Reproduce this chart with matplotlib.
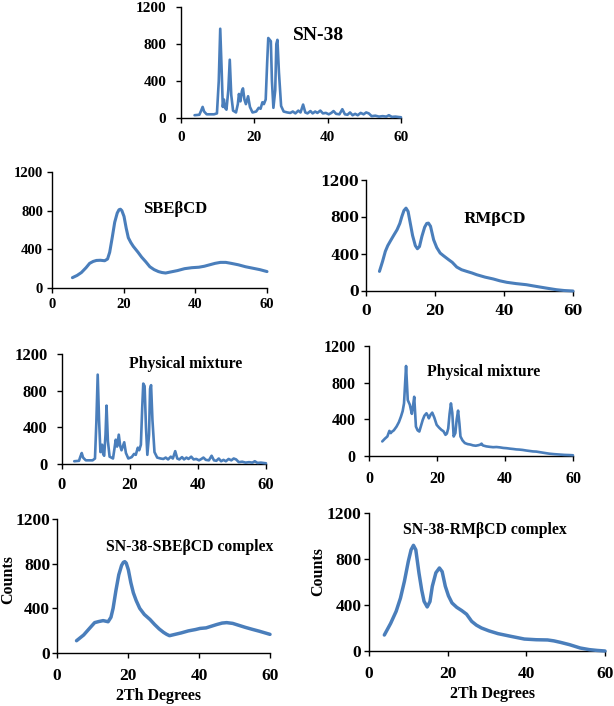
import matplotlib
matplotlib.use('Agg')
import matplotlib.pyplot as plt

# ---------------- data ----------------
x_ticks = [0, 20, 40, 60]
y_ticks = [0, 400, 800, 1200]

sn38_x = [3.7, 5.0, 5.5, 5.9, 6.3, 7.0, 9.0, 9.8, 10.3, 10.7, 11.1, 11.4, 11.7, 12.0, 12.4,
          12.9, 13.3, 13.7, 14.2, 15.0, 15.5, 15.8, 16.2, 16.6, 16.9, 17.3, 17.7, 18.3, 18.8,
          19.5, 20.5, 21.2, 21.7, 22.2, 22.6, 23.1, 23.5, 23.8, 24.1, 24.5, 24.8, 25.2, 25.7,
          26.0, 26.3, 26.7, 27.3, 28.0, 29.0, 29.8, 30.5, 31.2, 32.0, 32.6, 33.3, 33.9, 34.5,
          35.3, 35.9, 36.6, 37.2, 38.0, 38.7, 39.5, 40.3, 41.0, 41.6, 42.3, 43.2, 44.0, 44.7,
          45.4, 46.1, 46.8, 47.5, 48.2, 49.0, 49.8, 50.5, 51.2, 52.0, 53.0, 54.0, 55.0, 56.0,
          56.7, 57.5, 58.5, 59.5, 60.0]
sn38_y = [30, 35, 80, 120, 70, 40, 40, 50, 400, 965, 500, 120, 200, 110, 90,
          300, 630, 250, 80, 60, 150, 260, 180, 290, 320, 200, 150, 235, 120,
          60, 70, 110, 100, 170, 150, 200, 600, 865, 850, 830, 400, 110, 300,
          800, 845, 500, 130, 70, 60, 55, 70, 50, 80, 60, 145, 60, 50,
          75, 50, 70, 55, 80, 50, 55, 40, 55, 75, 45, 40, 95, 40,
          35, 60, 30, 45, 30, 55, 40, 60, 50, 20, 25, 15, 20, 15,
          30, 12, 15, 10, 8]

sbe_x = [5.7, 7.0, 8.2, 9.5, 10.5, 11.5, 12.4, 13.5, 14.7, 15.5, 16.1, 16.8, 17.5, 18.2, 18.7,
         19.1, 19.5, 20.1, 20.7, 21.3, 22.0, 22.7, 24.0, 25.0, 26.2, 27.3, 28.5, 29.7, 30.7,
         31.7, 33.0, 35.0, 37.0, 39.0, 41.0, 42.5, 44.0, 45.5, 47.0, 48.5, 50.0, 52.0, 54.0,
         56.0, 58.0, 60.0]
sbe_y = [107, 130, 160, 210, 255, 275, 285, 287, 282, 300, 370, 520, 680, 775, 810,
         815, 800, 740, 620, 520, 470, 430, 370, 320, 270, 220, 190, 170, 160,
         155, 165, 180, 200, 210, 215, 225, 240, 255, 265, 265, 255, 240, 220,
         205, 190, 170]

rm_x = [3.9, 4.8, 5.6, 6.3, 7.0, 8.0, 9.0, 9.8, 10.4, 11.0, 11.6, 12.2, 12.8, 13.5, 14.3,
        14.9, 15.5, 16.2, 17.0, 17.6, 18.1, 18.7, 19.6, 20.5, 21.5, 22.5, 23.9, 25.0, 26.3,
        27.7, 29.2, 30.7, 32.1, 34.5, 36.9, 38.8, 40.8, 43.5, 46.5, 48.5, 50.4, 52.5, 55.2,
        57.5, 60.0]
rm_y = [212, 320, 428, 490, 536, 600, 662, 730, 806, 870, 896, 860, 740, 600, 490,
        457, 480, 590, 690, 730, 734, 700, 554, 470, 410, 380, 340, 310, 259,
        230, 212, 195, 176, 150, 130, 110, 94, 80, 68, 55, 43, 30, 14,
        5, 0]

pm1_x = [3.6, 5.0, 5.4, 5.8, 6.2, 7.0, 9.0, 9.7, 10.1, 10.5, 10.9, 11.3, 11.8, 12.1, 12.4,
         12.8, 13.1, 13.5, 14.0, 15.0, 15.4, 15.8, 16.2, 16.7, 17.1, 17.5, 18.3, 18.8, 19.5,
         20.5, 21.2, 21.7, 22.3, 22.7, 23.2, 23.6, 23.9, 24.3, 24.7, 25.1, 25.6, 25.9, 26.2,
         26.6, 27.2, 28.0, 29.0, 29.8, 30.5, 31.2, 32.0, 32.6, 33.3, 33.9, 34.5, 35.3, 35.9,
         36.6, 37.2, 38.0, 38.7, 39.5, 40.3, 41.0, 41.6, 42.3, 43.2, 44.0, 44.7, 45.4, 46.1,
         46.8, 47.5, 48.2, 49.0, 49.8, 50.5, 51.2, 52.0, 53.0, 54.0, 55.0, 56.0, 56.7, 57.5,
         58.5, 59.5, 60.0]
pm1_y = [30, 35, 80, 120, 70, 40, 40, 60, 450, 975, 480, 130, 210, 110, 90,
         320, 637, 250, 80, 60, 160, 265, 190, 320, 200, 150, 237, 120, 60,
         75, 110, 100, 178, 150, 210, 620, 877, 850, 400, 100, 320, 820, 860,
         480, 130, 70, 60, 55, 70, 50, 80, 60, 140, 60, 50, 75, 50,
         70, 55, 80, 50, 55, 40, 55, 70, 45, 40, 90, 40, 35, 60,
         30, 45, 30, 55, 40, 60, 50, 20, 25, 15, 20, 15, 30, 12,
         15, 10, 8]

pm2_x = [3.9, 4.7, 5.4, 6.0, 6.4, 6.65, 7.3, 8.1, 8.8, 9.4, 9.9, 10.3, 10.6, 10.9, 11.2,
         11.4, 11.7, 12.0, 12.3, 12.6, 13.0, 13.3, 13.6, 13.8, 14.3, 14.8, 15.3, 15.8, 16.3,
         16.9, 17.3, 17.6, 18.1, 18.6, 19.2, 19.9, 20.6, 21.3, 21.9, 22.5, 22.9, 23.3, 23.7,
         24.1, 24.5, 24.9, 25.4, 25.8, 26.2, 26.6, 26.9, 27.5, 28.2, 29.0, 29.8, 30.6, 31.4,
         32.2, 32.8, 33.1, 33.5, 34.5, 35.5, 36.5, 37.5, 38.5, 39.5, 40.5, 41.5, 42.5, 43.3,
         44.2, 45.2, 46.2, 47.2, 48.2, 49.2, 50.2, 51.2, 52.2, 53.1, 54.5, 56.0, 57.5, 59.0,
         60.0]
pm2_y = [159, 190, 213, 274, 250, 262, 280, 321, 370, 430, 490, 574, 780, 982, 760,
         610, 585, 560, 510, 460, 560, 646, 450, 321, 280, 267, 330, 393, 440,
         466, 440, 411, 450, 473, 420, 340, 310, 285, 270, 231, 245, 300, 460,
         574, 470, 213, 250, 400, 495, 350, 213, 170, 141, 130, 125, 116, 112,
         118, 125, 135, 115, 105, 100, 96, 98, 94, 88, 85, 80, 76, 72,
         70, 66, 60, 55, 50, 48, 42, 36, 30, 25, 20, 16, 12, 10,
         8]

sbec_x = [5.5, 7.5, 9.0, 10.6, 11.8, 13.0, 14.4, 15.2, 15.8, 16.6, 17.4, 18.2, 18.7, 19.1,
          19.5, 20.1, 20.8, 21.5, 22.3, 23.3, 24.6, 26.2, 27.5, 28.8, 30.0, 30.9, 31.7, 33.0,
          35.0, 37.0, 39.0, 40.3, 42.0, 43.5, 45.0, 46.5, 47.8, 49.5, 51.0, 53.0, 55.0, 57.0,
          60.0]
sbec_y = [110, 161, 215, 272, 282, 290, 280, 320, 400, 560, 700, 785, 812, 818,
          805, 745, 630, 540, 470, 400, 345, 300, 255, 215, 185, 167, 155, 165,
          180, 198, 210, 220, 225, 240, 255, 268, 272, 265, 250, 230, 212, 195,
          167]

rmc_x = [3.9, 5.5, 6.9, 8.0, 9.0, 10.0, 10.7, 11.3, 11.9, 12.7, 13.4, 14.0, 14.8, 15.5,
         16.1, 17.0, 17.9, 18.6, 19.4, 20.2, 21.1, 22.3, 23.6, 24.8, 26.1, 27.3, 28.6, 30.5,
         32.8, 36.0, 39.5, 42.5, 45.4, 47.0, 48.7, 51.0, 53.7, 56.0, 58.0, 60.0]
rmc_y = [139, 240, 345, 460, 606, 780, 880, 919, 880, 679, 530, 432, 383, 430,
         563, 680, 722, 690, 563, 480, 418, 380, 351, 320, 258, 225, 200, 175,
         151, 128, 104, 98, 96, 88, 75, 55, 26, 12, 5, 0]

panel_titles = ["SN-38", "SBE\u03b2CD", "RM\u03b2CD", "Physical mixture", "Physical mixture",
                "SN-38-SBE\u03b2CD complex", "SN-38-RM\u03b2CD complex"]
y_label = "Counts"
x_label = "2Th Degrees"

# ---------------- figure ----------------
W, H = 614, 706
fig = plt.figure(figsize=(W / 100, H / 100), dpi=100)
LINE = '#4a7ebb'
SERIF = 'Liberation Serif'
WIDE = 'DejaVu Serif'


def px_axes(x0, y0, x1, y1):
    return fig.add_axes([x0 / W, 1 - y1 / H, (x1 - x0) / W, (y1 - y0) / H])


panels = [
    # box(px), x, y, line width, tick fontsize, tick family, xpad, ypad
    ((181, 7, 401, 118), sn38_x, sn38_y, 1.9, 11, SERIF, 6, 7),
    ((52, 172, 267, 288), sbe_x, sbe_y, 2.2, 10.5, SERIF, 4, 3),
    ((366, 180, 573, 291), rm_x, rm_y, 2.2, 10, WIDE, 6, 1.5),
    ((62, 354, 266, 464), pm1_x, pm1_y, 1.9, 12, SERIF, 6, 7),
    ((369, 346, 573, 456), pm2_x, pm2_y, 1.9, 11.5, SERIF, 7, 6),
    ((57, 519, 270, 653), sbec_x, sbec_y, 2.5, 12.5, SERIF, 7, 1.5),
    ((369, 513, 605, 651), rmc_x, rmc_y, 2.5, 12.5, SERIF, 7, 2),
]

axes = []
for box, xs, ys, lw, tfs, tfam, xpad, ypad in panels:
    ax = px_axes(*box)
    ax.plot(xs, ys, color=LINE, lw=lw, solid_joinstyle='round', solid_capstyle='round',
            clip_on=False, zorder=3)
    ax.set_xlim(0, 60)
    ax.set_ylim(0, 1200)
    ax.set_xticks(x_ticks)
    ax.set_yticks(y_ticks)
    for s in ('top', 'right'):
        ax.spines[s].set_visible(False)
    for s in ('left', 'bottom'):
        ax.spines[s].set_linewidth(1.0)
        ax.spines[s].set_color('black')
    ax.tick_params(axis='both', direction='out', length=3.5, width=1.0, color='black')
    ax.tick_params(axis='x', pad=xpad)
    ax.tick_params(axis='y', pad=ypad)
    for lab in ax.get_xticklabels() + ax.get_yticklabels():
        lab.set_fontfamily(tfam)
        lab.set_fontweight('bold')
        lab.set_fontsize(tfs)
    ax.patch.set_alpha(0)
    axes.append(ax)


def ftext(x, y, s, size, family=SERIF, rot=0):
    fig.text(x / W, 1 - y / H, s, fontsize=size, fontweight='bold', family=family,
             ha='center', va='center', rotation=rot)


title_pos = [(318, 36, 14, SERIF), (175, 209, 12, SERIF), (494, 219, 10.5, WIDE),
             (186, 364, 11.3, SERIF), (484, 372, 11.3, SERIF), (190, 547, 11.3, SERIF),
             (485, 530, 11.3, SERIF)]
for t, (x, y, fs, fam) in zip(panel_titles, title_pos):
    ftext(x, y, t, fs, fam)

ftext(8, 580, y_label, 11.5, rot=90)
ftext(318, 572, y_label, 11.5, rot=90)
ftext(158, 696, x_label, 11.5)
ftext(493, 694, x_label, 11.5)

fig.savefig('out.png', dpi=100)
